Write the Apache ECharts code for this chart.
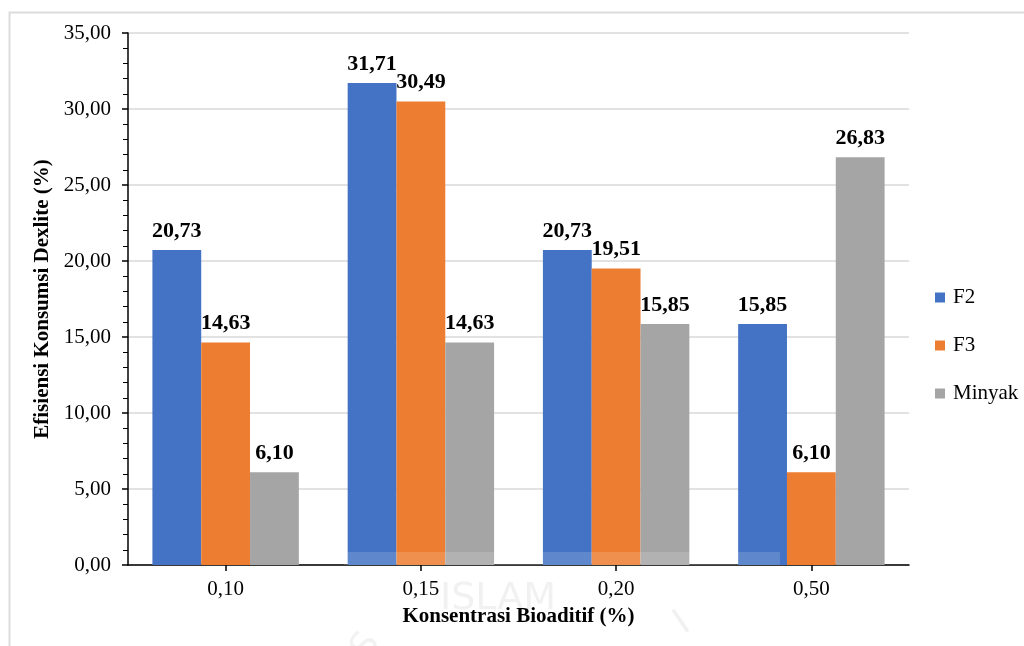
<!DOCTYPE html>
<html>
<head>
<meta charset="utf-8">
<script src="https://cdn.jsdelivr.net/npm/echarts@6/dist/echarts.min.js"></script>
<style>
  html, body { margin: 0; padding: 0; background: #ffffff; }
  #chart { width: 1024px; height: 646px; }
</style>
</head>
<body>
<div id="chart"></div>
<script>
// Bioadditive concentration groups and consumption efficiency per fuel blend
const categories = ['0,10', '0,15', '0,20', '0,50'];
const seriesNames = ['F2', 'F3', 'Minyak'];
const f2Values = [20.73, 31.71, 20.73, 15.85];
const f3Values = [14.63, 30.49, 19.51, 6.10];
const minyakValues = [6.10, 14.63, 15.85, 26.83];
const yTicks = { min: 0, max: 35, interval: 5 };

const colors = ['#4472C4', '#ED7D31', '#A5A5A5'];
const serif = '"Liberation Serif", "Times New Roman", serif';
const fmt = v => v.toFixed(2).replace('.', ',');

const chart = echarts.init(document.getElementById('chart'), null, { renderer: 'canvas' });

function barSeries(name, data, color) {
  return {
    name: name,
    type: 'bar',
    data: data,
    barGap: '0%',
    barCategoryGap: '25%',
    itemStyle: { color: color },
    label: {
      show: true,
      position: 'top',
      distance: 8,
      fontFamily: serif,
      fontWeight: 'bold',
      fontSize: 22,
      color: '#000',
      formatter: p => fmt(p.value)
    },
    z: 2
  };
}

chart.setOption({
  animation: false,
  backgroundColor: '#ffffff',
  textStyle: { fontFamily: serif },
  grid: { left: 128, right: 115, top: 33, bottom: 81, containLabel: false },
  legend: {
    orient: 'vertical',
    left: 930,
    top: 282,
    itemWidth: 10,
    itemHeight: 10,
    itemGap: 27,
    icon: 'rect',
    data: seriesNames,
    textStyle: { fontFamily: serif, fontSize: 21, color: '#000', padding: [0, 0, 0, 3] }
  },
  xAxis: {
    type: 'category',
    data: categories,
    name: 'Konsentrasi Bioaditif (%)',
    nameLocation: 'middle',
    nameGap: 41,
    nameTextStyle: { fontFamily: serif, fontWeight: 'bold', fontSize: 21, color: '#000' },
    axisLine: { lineStyle: { color: '#000', width: 1.5 } },
    axisTick: { show: true, alignWithLabel: true, length: 6, lineStyle: { color: '#000', width: 1.5 } },
    axisLabel: { fontFamily: serif, fontSize: 21, color: '#000', margin: 14 }
  },
  yAxis: {
    type: 'value',
    min: yTicks.min,
    max: yTicks.max,
    interval: yTicks.interval,
    name: 'Efisiensi Konsumsi Dexlite (%)',
    nameLocation: 'middle',
    nameGap: 71,
    nameTextStyle: { fontFamily: serif, fontWeight: 'bold', fontSize: 21, color: '#000' },
    axisLine: { show: true, lineStyle: { color: '#000', width: 1.5 } },
    axisTick: { show: true, length: 6, lineStyle: { color: '#000', width: 1.5 } },
    minorTick: { show: true, splitNumber: 5, length: 5, lineStyle: { color: '#000', width: 1 } },
    axisLabel: { fontFamily: serif, fontSize: 21, color: '#000', margin: 17, formatter: v => fmt(v) },
    splitLine: { show: true, lineStyle: { color: '#d9d9d9', width: 1.5 } }
  },
  series: [
    barSeries(seriesNames[0], f2Values, colors[0]),
    barSeries(seriesNames[1], f3Values, colors[1]),
    barSeries(seriesNames[2], minyakValues, colors[2])
  ],
  graphic: [
    // outer frame
    { type: 'rect', silent: true, z: 0,
      shape: { x: 9.5, y: 12.5, width: 1030, height: 650 },
      style: { fill: null, stroke: '#dcdcdc', lineWidth: 2 } },
    // faint watermark
    { type: 'rect', silent: true, z: 100,
      shape: { x: 344, y: 552, width: 436, height: 13 },
      style: { fill: 'rgba(255,255,255,0.15)' } },
    { type: 'text', silent: true, z: -1, left: 440, top: 580,
      style: { text: 'ISLAM', fill: '#f1f1f1', font: '38px "DejaVu Sans", sans-serif' } },
    { type: 'text', silent: true, z: -1, x: 345, y: 646, rotation: 1.0,
      style: { text: 'S', fill: '#f2f2f2', font: '36px "DejaVu Sans", sans-serif' } },
    { type: 'text', silent: true, z: -1, x: 668, y: 612, rotation: 0.6,
      style: { text: 'I', fill: '#f1f1f1', font: '36px "DejaVu Sans", sans-serif' } }
  ]
});
</script>
</body>
</html>
